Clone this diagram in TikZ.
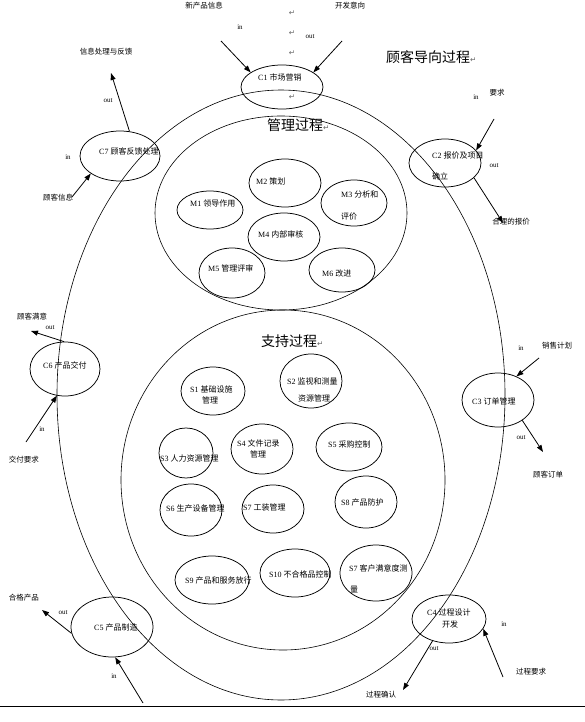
\documentclass[tikz,border=0pt]{standalone}
\usepackage{fontspec}
\setmainfont{Liberation Serif}
\newfontfamily\zhfont{Noto Sans CJK SC}
\newfontfamily\markfont{DejaVu Sans}
\usetikzlibrary{arrows.meta,shapes.geometric}
\newcommand{\pmark}{{\markfont\color{black!60}\fontsize{7.5}{8}\selectfont ↵}}

\begin{document}
\begin{tikzpicture}[x=1pt, y=-1pt,
  ring/.style={draw, ellipse, line width=0.6pt, inner sep=0pt},
  proc/.style={draw, ellipse, line width=0.75pt, inner sep=0pt},
  lab/.style={anchor=west, inner sep=0pt, font=\fontsize{8}{9}\selectfont},
  ext/.style={inner sep=0pt, font=\zhfont\fontsize{7.5}{8}\selectfont},
  io/.style={inner sep=0pt, font=\fontsize{7}{8}\selectfont},
  heading/.style={anchor=west, inner sep=0pt, font=\zhfont\fontsize{14}{16}\selectfont},
  flow/.style={-{Triangle[length=7pt, width=5pt]}, line width=0.8pt}]

\useasboundingbox (0,0) rectangle (585,722);

% Big rings
\node[ring, minimum width=448pt, minimum height=610pt] (outer) at (281,395) {};
\node[ring, minimum width=252pt, minimum height=194pt] (mgmt) at (281,213) {};
\node[ring, minimum width=324pt, minimum height=340pt] (supp) at (283,480) {};

% Titles
\node[heading] (tcust) at (386,57) {顾客导向过程\pmark};
\node[heading] (tmgmt) at (267,125) {管理过程\pmark};
\node[heading] (tsupp) at (261,341) {支持过程\pmark};

% Paragraph marks
\foreach \y in {13,33,53,97} {
  \node[inner sep=0pt] at (292,\y) {\pmark};
}

% ---- Customer processes ----
\node[proc, minimum width=82pt, minimum height=44pt] (c1) at (282,87) {};
\node[proc, minimum width=72pt, minimum height=48pt] (c2) at (445,163) {};
\node[proc, minimum width=72pt, minimum height=54pt] (c3) at (498,400) {};
\node[proc, minimum width=74pt, minimum height=48pt] (c4) at (449,619) {};
\node[proc, minimum width=82pt, minimum height=60pt] (c5) at (112,627) {};
\node[proc, minimum width=70pt, minimum height=54pt] (c6) at (65,369) {};
\node[proc, minimum width=80pt, minimum height=50pt] (c7) at (120,156) {};

\node[lab] (c1t) at (258,77) {C1 {\zhfont 市场营销}};
\node[lab] (c2t) at (432,155) {C2 {\zhfont 报价及项目}};
\node[lab] (c2u) at (432,176) {\zhfont 确立};
\node[lab] (c3t) at (472,401) {C3 {\zhfont 订单管理}};
\node[lab] (c4t) at (427,612) {C4 {\zhfont 过程设计}};
\node[lab] (c4u) at (442,624) {\zhfont 开发};
\node[lab] (c5t) at (94,627) {C5 {\zhfont 产品制造}};
\node[lab] (c6t) at (43,365) {C6 {\zhfont 产品交付}};
\node[lab] (c7t) at (99,151) {C7 {\zhfont 顾客反馈处理}};

% ---- Management processes ----
\node[proc, minimum width=66pt, minimum height=38pt] (m1) at (210,210) {};
\node[proc, minimum width=72pt, minimum height=48pt] (m2) at (285,183) {};
\node[proc, minimum width=66pt, minimum height=46pt] (m3) at (354,203) {};
\node[proc, minimum width=72pt, minimum height=48pt] (m4) at (284,237) {};
\node[proc, minimum width=66pt, minimum height=50pt] (m5) at (232,273) {};
\node[proc, minimum width=66pt, minimum height=44pt] (m6) at (342,270) {};

\node[lab] (m1t) at (190,203) {M1 {\zhfont 领导作用}};
\node[lab] (m2t) at (256,181) {M2 {\zhfont 策划}};
\node[lab] (m3t) at (341,194) {M3 {\zhfont 分析和}};
\node[lab] (m3u) at (341,216) {\zhfont 评价};
\node[lab] (m4t) at (258,234) {M4 {\zhfont 内部审核}};
\node[lab] (m5t) at (208,268) {M5 {\zhfont 管理评审}};
\node[lab] (m6t) at (322,273) {M6 {\zhfont 改进}};

% ---- Support processes ----
\node[proc, minimum width=64pt, minimum height=48pt] (s1) at (213,391) {};
\node[proc, minimum width=62pt, minimum height=54pt] (s2) at (311,381) {};
\node[proc, minimum width=54pt, minimum height=50pt] (s3) at (186,453) {};
\node[proc, minimum width=62pt, minimum height=50pt] (s4) at (262,449) {};
\node[proc, minimum width=66pt, minimum height=48pt] (s5) at (349,447) {};
\node[proc, minimum width=62pt, minimum height=52pt] (s6) at (191,510) {};
\node[proc, minimum width=62pt, minimum height=48pt] (s7) at (273,509) {};
\node[proc, minimum width=62pt, minimum height=52pt] (s8) at (366,502) {};
\node[proc, minimum width=74pt, minimum height=48pt] (s9) at (212,580) {};
\node[proc, minimum width=70pt, minimum height=48pt] (s10) at (295,573) {};
\node[proc, minimum width=72pt, minimum height=56pt] (s11) at (376,573) {};

\node[lab] (s1t) at (190,389) {S1 {\zhfont 基础设施}};
\node[lab] (s1u) at (202,400) {\zhfont 管理};
\node[lab] (s2t) at (287,381) {S2 {\zhfont 监视和测量}};
\node[lab] (s2u) at (298,398) {\zhfont 资源管理};
\node[lab] (s3t) at (160,458) {S3 {\zhfont 人力资源管理}};
\node[lab] (s4t) at (237,443) {S4 {\zhfont 文件记录}};
\node[lab] (s4u) at (250,454) {\zhfont 管理};
\node[lab] (s5t) at (328,444) {S5 {\zhfont 采购控制}};
\node[lab] (s6t) at (166,508) {S6 {\zhfont 生产设备管理}};
\node[lab] (s7t) at (243,507) {S7 {\zhfont 工装管理}};
\node[lab] (s8t) at (341,502) {S8 {\zhfont 产品防护}};
\node[lab] (s9t) at (185,580) {S9 {\zhfont 产品和服务放行}};
\node[lab] (s10t) at (269,574) {S10 {\zhfont 不合格品控制}};
\node[lab] (s11t) at (349,568) {S7 {\zhfont 客户满意度测}};
\node[lab] (s11u) at (350,589) {\zhfont 量};

% ---- Inputs and outputs ----
\node[ext] (newinfo) at (204,6) {新产品信息};
\node[ext] (devint) at (350,6) {开发意向};
\node[ext] (req) at (497,93) {要求};
\node[ext] (quote) at (511,222) {合理的报价};
\node[ext] (fbinfo) at (106,52) {信息处理与反馈};
\node[ext] (custinfo) at (58,198) {顾客信息};
\node[ext] (satis) at (32,317) {顾客满意};
\node[ext] (delreq) at (24,460) {交付要求};
\node[ext] (plan) at (557,346) {销售计划};
\node[ext] (order) at (548,475) {顾客订单};
\node[ext] (good) at (24,598) {合格产品};
\node[ext] (procreq) at (531,672) {过程要求};
\node[ext] (proccf) at (381,695) {过程确认};

\foreach \x/\y/\t in {240/27/in, 310/37/out, 476/97/in, 494/166/out,
  108/101/out, 68/157/in, 50/328/out, 42/429/in, 521/348/in, 521/438/out,
  63/613/out, 114/676/in, 504/624/in, 434/649/out} {
  \node[io] at (\x,\y) {\t};
}

% Free ends of the arrows
\coordinate (p1) at (221,41);
\coordinate (p2) at (342,41);
\coordinate (p3) at (494,119);
\coordinate (p4) at (503,223);
\coordinate (p5) at (111,73);
\coordinate (p6) at (72,197);
\coordinate (p7) at (31,331);
\coordinate (p8) at (26,442);
\coordinate (p9) at (539,358);
\coordinate (p10) at (543,452);
\coordinate (p11) at (42,610);
\coordinate (p12) at (143,703);
\coordinate (p13) at (503,677);
\coordinate (p14) at (403,690);

\draw[flow] (p1) -- (c1.155);
\draw[flow] (p2) -- (c1.25);
\draw[flow] (p3) -- (c2.22);
\draw[flow] (c2.-27) -- (p4);
\draw[flow] (c7.69) -- (p5);
\draw[flow] (p6) -- (c7.211);
\draw[flow] (c6.92) -- (p7);
\draw[flow] (p8) -- (c6.253);
\draw[flow] (p9) -- (c3.52);
\draw[flow] (c3.-40) -- (p10);
\draw[flow] (c5.189) -- (p11);
\draw[flow] (p12) -- (c5.276);
\draw[flow] (p13) -- (c4.-16);
\draw[flow] (c4.233) -- (p14);

% Bottom rule
\coordinate (baseL) at (0,706);
\coordinate (baseR) at (585,706);
\draw[line width=0.7pt] (baseL) -- (baseR);

\end{tikzpicture}
\end{document}
